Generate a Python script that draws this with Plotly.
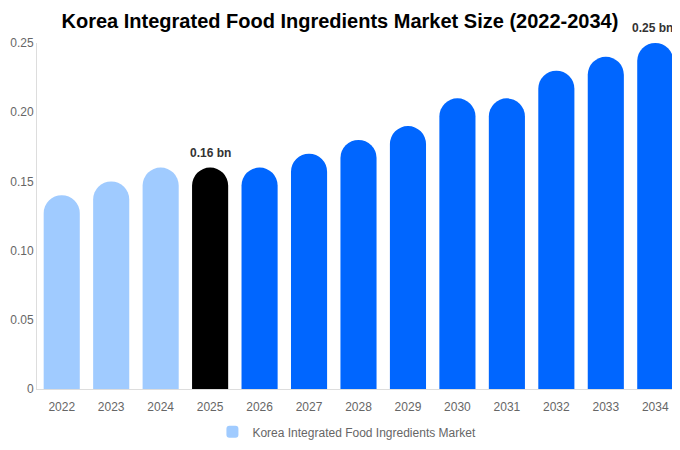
import plotly.graph_objects as go

years = ['2022', '2023', '2024', '2025', '2026', '2027', '2028',
         '2029', '2030', '2031', '2032', '2033', '2034']
market_size = [0.14, 0.15, 0.16, 0.16, 0.16, 0.17, 0.18,
               0.19, 0.21, 0.21, 0.23, 0.24, 0.25]
bar_colors = ['#a0cbff'] * 3 + ['#000000'] + ['#0066ff'] * 9

y_ticks = [0, 0.05, 0.10, 0.15, 0.20, 0.25]
y_tick_text = ['0', '0.05', '0.10', '0.15', '0.20', '0.25']

# which bars get a value label
labelled = ['2025', '2034']

fig = go.Figure()

fig.add_trace(go.Bar(
    x=years, y=market_size, name='Korea Integrated Food Ingredients Market',
    marker=dict(color=bar_colors, line=dict(width=0)),
    showlegend=True,
))

for yr in labelled:
    i = years.index(yr)
    v = market_size[i]
    # category axis: position by index, a string like '2025' gets read as a number
    last = i == len(years) - 1
    fig.add_annotation(x=i, y=v, text=f'<b>{v:.2f} bn</b>', showarrow=False,
                       yshift=6, xshift=-3 if last else 0,
                       font=dict(size=12, color='#333333', family='Liberation Sans'),
                       xanchor='center', yanchor='bottom')

# page body keeps an 8px margin, so the figure is 8px smaller than the window
fig.update_layout(
    width=672, height=442,
    title=dict(text='<b>Korea Integrated Food Ingredients Market Size (2022-2034)</b>',
               x=0.494, xanchor='center', y=0.9706, yanchor='middle',
               font=dict(size=20, color='#000000', family='Liberation Sans')),
    font=dict(family='Liberation Sans', size=12, color='#666666'),
    margin=dict(l=29, r=0, t=35, b=61),
    plot_bgcolor='white', paper_bgcolor='white',
    bargap=0.27, barcornerradius='50%',
    showlegend=True,
    legend=dict(orientation='h', x=0.482, xanchor='center',
                y=-0.082, yanchor='top', font=dict(size=12, color='#666666')),
    xaxis=dict(type='category', range=[-0.5, len(years) - 0.5], showgrid=False,
               showline=True, linecolor='#dddddd', linewidth=1, ticks='',
               ticklabelstandoff=7, tickfont=dict(size=12, color='#666666')),
    yaxis=dict(range=[0, 0.25], showgrid=False, showline=True, linecolor='#dddddd',
               linewidth=1, zeroline=False, tickvals=y_ticks, ticktext=y_tick_text,
               ticks='', automargin=False, tickfont=dict(size=12, color='#666666')),
)

fig.write_html('out.html', config={'displayModeBar': False})
